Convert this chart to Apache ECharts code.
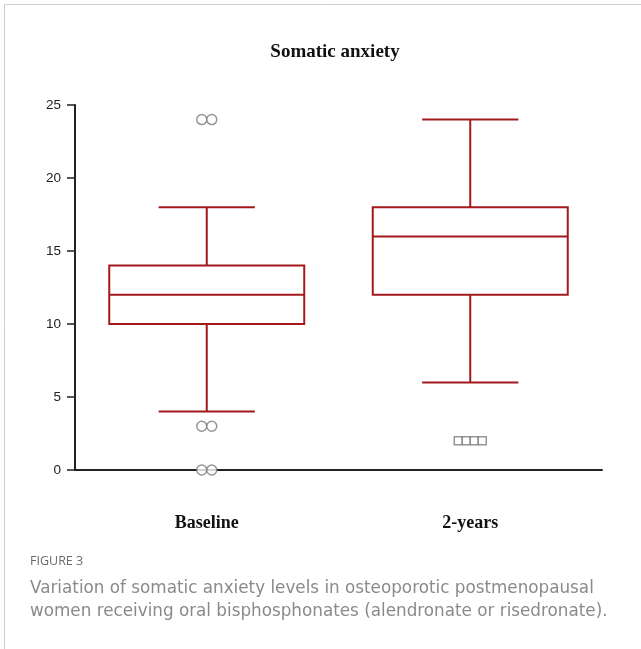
<!DOCTYPE html>
<html>
<head>
<meta charset="utf-8">
<script src="https://cdn.jsdelivr.net/npm/echarts@6/dist/echarts.min.js"></script>
<style>
  html, body { margin: 0; padding: 0; background: #fff; }
  #chart { width: 641px; height: 649px; }
</style>
</head>
<body>
<div id="chart"></div>
<script>
// box plot data
var categories = ['Baseline', '2-years'];
var whiskerLow = [4, 6];
var q1 = [10, 12];
var median = [12, 16];
var q3 = [14, 18];
var whiskerHigh = [18, 24];
var baselineOutliers = [24, 24, 3, 3, 0, 0];
var twoYearOutliers = [2, 2, 2, 2];
var yTicks = [0, 5, 10, 15, 20, 25];

var boxColor = '#a3191c';

var boxData = categories.map(function (c, i) {
    return [i, whiskerLow[i], q1[i], median[i], q3[i], whiskerHigh[i]];
});

// spread repeated outliers side by side
function outlierPoints(catIdx, vals, gap) {
    var counts = {};
    vals.forEach(function (v) { counts[v] = (counts[v] || 0) + 1; });
    var seen = {};
    return vals.map(function (v) {
        var n = counts[v];
        var k = seen[v] || 0;
        seen[v] = k + 1;
        return { value: [catIdx, v], symbolOffset: [(k - (n - 1) / 2) * gap, 0] };
    });
}

var chart = echarts.init(document.getElementById('chart'));

var option = {
    animation: false,
    title: {
        text: 'Somatic anxiety',
        left: 330,
        textAlign: 'center',
        top: 38,
        textStyle: {
            fontFamily: 'Liberation Serif',
            fontWeight: 'bold',
            fontSize: 19,
            color: '#111'
        }
    },
    grid: {
        left: 75,
        right: 39,
        top: 105,
        bottom: 179
    },
    xAxis: {
        type: 'category',
        data: categories,
        boundaryGap: true,
        axisLine: { lineStyle: { color: '#222', width: 2 } },
        axisTick: { alignWithLabel: true, length: 8, lineStyle: { color: '#222', width: 1.5 } },
        axisLabel: {
            margin: 44,
            fontFamily: 'Liberation Serif',
            fontWeight: 'bold',
            fontSize: 18,
            color: '#111'
        },
        splitLine: { show: false }
    },
    yAxis: {
        type: 'value',
        min: yTicks[0],
        max: yTicks[yTicks.length - 1],
        interval: 5,
        axisLine: { show: true, lineStyle: { color: '#222', width: 2 } },
        axisTick: { show: true, length: 8, lineStyle: { color: '#222', width: 1.5 } },
        axisLabel: {
            margin: 14,
            fontFamily: 'Liberation Sans',
            fontSize: 13.5,
            color: '#222'
        },
        splitLine: { show: false }
    },
    series: [
        {
            type: 'custom',
            data: boxData,
            z: 2,
            renderItem: function (params, api) {
                var idx = api.value(0);
                var band = api.size([1, 0])[0];
                var boxW = band * 0.74;
                var capW = band * 0.365;
                var pLow = api.coord([idx, api.value(1)]);
                var pQ1 = api.coord([idx, api.value(2)]);
                var pMed = api.coord([idx, api.value(3)]);
                var pQ3 = api.coord([idx, api.value(4)]);
                var pHigh = api.coord([idx, api.value(5)]);
                var cx = pMed[0];
                var style = { stroke: boxColor, lineWidth: 2, fill: null };
                function line(x1, y1, x2, y2) {
                    return { type: 'line', shape: { x1: x1, y1: y1, x2: x2, y2: y2 }, style: style };
                }
                return {
                    type: 'group',
                    children: [
                        { type: 'rect', shape: { x: cx - boxW / 2, y: pQ3[1], width: boxW, height: pQ1[1] - pQ3[1] }, style: style },
                        line(cx - boxW / 2, pMed[1], cx + boxW / 2, pMed[1]),
                        line(cx, pQ3[1], cx, pHigh[1]),
                        line(cx, pQ1[1], cx, pLow[1]),
                        line(cx - capW / 2, pHigh[1], cx + capW / 2, pHigh[1]),
                        line(cx - capW / 2, pLow[1], cx + capW / 2, pLow[1])
                    ]
                };
            }
        },
        {
            type: 'scatter',
            data: outlierPoints(0, baselineOutliers, 10),
            symbol: 'circle',
            symbolSize: 10,
            z: 5,
            itemStyle: { color: '#fff', borderColor: '#7a7a7a', borderWidth: 1.5 }
        },
        {
            type: 'scatter',
            data: outlierPoints(1, twoYearOutliers, 8),
            symbol: 'rect',
            symbolSize: 8,
            z: 5,
            itemStyle: { color: '#fff', borderColor: '#7a7a7a', borderWidth: 1.5 }
        }
    ],
    graphic: [
        { type: 'line', shape: { x1: 4, y1: 4.5, x2: 641, y2: 4.5 }, style: { stroke: '#cfcfcf', lineWidth: 1 } },
        { type: 'line', shape: { x1: 4.5, y1: 4, x2: 4.5, y2: 649 }, style: { stroke: '#cfcfcf', lineWidth: 1 } },
        {
            type: 'text', left: 30, top: 555,
            style: { text: 'FIGURE 3', fontFamily: 'Open Sans', fontSize: 12.5, fill: '#6b6b6b' }
        },
        {
            type: 'text', left: 30, top: 577,
            style: {
                text: 'Variation of somatic anxiety levels in osteoporotic postmenopausal\nwomen receiving oral bisphosphonates (alendronate or risedronate).',
                fontFamily: 'DejaVu Sans', fontSize: 16.8, lineHeight: 23, fill: '#8a8a8a'
            }
        }
    ]
};

chart.setOption(option);
</script>
</body>
</html>
